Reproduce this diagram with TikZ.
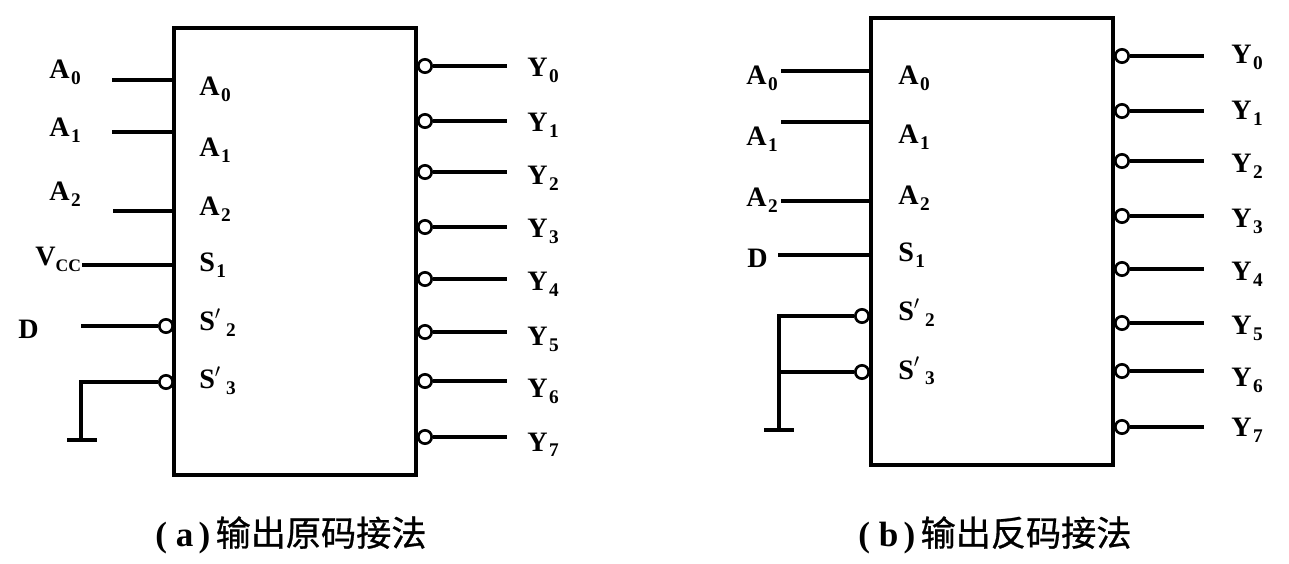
\documentclass[tikz,border=0pt]{standalone}
\usepackage{fontspec}
\setmainfont{Liberation Serif}
\newfontfamily\cjkfont[FakeBold=0.8]{Noto Sans CJK SC}
\usetikzlibrary{calc}
\newcommand{\sublab}[2]{#1\kern0.8pt\raisebox{-3.4pt}{\fontsize{11}{11}\selectfont #2}}
\tikzset{
	wire/.style={line width=1.8pt},
	chipbox/.style={draw, line width=1.8pt, minimum width=4.84cm, minimum height=8.94cm, inner sep=0pt},
	bubble/.style={circle, draw, line width=1.5pt, fill=white, minimum size=7.6pt, inner sep=0pt},
	pinlab/.style={anchor=base west, inner sep=0pt, font=\fontsize{16}{18}\selectfont\bfseries},
	caplab/.style={anchor=base west, inner sep=0pt, font=\fontsize{20}{20}\selectfont\bfseries}
}
\begin{document}
\begin{tikzpicture}[x=0.02cm, y=-0.02cm]
	\useasboundingbox (0,0) rectangle (1289,564);
	
	% left circuit
	\node[chipbox] (boxa) at (295,251.5) {};
	\coordinate (ina0) at (112,80);
	\coordinate (ina1) at (112,132);
	\coordinate (ina2) at (113,211);
	\coordinate (invcc) at (82,265);
	\coordinate (ind) at (81,326);
	\coordinate (ingnd) at (81,382);
	\coordinate (gnda) at (81,440);
	\coordinate (gndal) at (67,440);
	\coordinate (gndar) at (97,440);
	\node[bubble] (nsa2) at (166,326) {};
	\node[bubble] (nsa3) at (166,382) {};
	\draw[wire] (ina0) -- (ina0 -| boxa.west);
	\draw[wire] (ina1) -- (ina1 -| boxa.west);
	\draw[wire] (ina2) -- (ina2 -| boxa.west);
	\draw[wire] (invcc) -- (invcc -| boxa.west);
	\draw[wire] (ind) -- (nsa2);
	\draw[wire] (nsa3) -- (ingnd) -- (gnda);
	\draw[wire] (gndal) -- (gndar);
	
	\node[pinlab] (la0) at (49,79) {\sublab{A}{0}};
	\node[pinlab] (la1) at (49,137) {\sublab{A}{1}};
	\node[pinlab] (la2) at (49,201) {\sublab{A}{2}};
	\node[pinlab] (lvcc) at (35,266) {V\raisebox{-3.4pt}{\fontsize{10}{10}\selectfont CC}};
	\node[pinlab] (ld) at (18,338) {D};
	
	\node[pinlab] (ta0) at (199,96) {\sublab{A}{0}};
	\node[pinlab] (ta1) at (199,157) {\sublab{A}{1}};
	\node[pinlab] (ta2) at (199,216) {\sublab{A}{2}};
	\node[pinlab] (ts1) at (199,272) {\sublab{S}{1}};
	\node[pinlab] (ts2) at (199,331) {\sublab{S$'$\kern2pt}{2}};
	\node[pinlab] (ts3) at (199,389) {\sublab{S$'$\kern2pt}{3}};
	
	\foreach \i/\yy/\ty in {0/66/77,1/121/132,2/172/185,3/227/238,4/279/291,5/332/346,6/381/398,7/437/451}{
		\node[bubble] (oa\i) at (425,\yy) {};
		\coordinate (ea\i) at (507,\yy);
		\draw[wire] (oa\i) -- (ea\i);
		\node[pinlab] (ya\i) at (527,\ty) {\sublab{Y}{\i}};
	}
	\node[caplab] (capa) at (155,546) {(\kern5pt a\kern3pt)\kern3pt{\mdseries\cjkfont 输出原码接法}};
	
	% right circuit
	\node[chipbox] (boxb) at (992,241.5) {};
	\coordinate (inb0) at (781,71);
	\coordinate (inb1) at (781,122);
	\coordinate (inb2) at (781,201);
	\coordinate (indb) at (778,255);
	\coordinate (intop) at (779,316);
	\coordinate (inmid) at (779,372);
	\coordinate (gndb) at (779,430);
	\coordinate (gndbl) at (764,430);
	\coordinate (gndbr) at (794,430);
	\node[bubble] (nsb2) at (862,316) {};
	\node[bubble] (nsb3) at (862,372) {};
	\draw[wire] (inb0) -- (inb0 -| boxb.west);
	\draw[wire] (inb1) -- (inb1 -| boxb.west);
	\draw[wire] (inb2) -- (inb2 -| boxb.west);
	\draw[wire] (indb) -- (indb -| boxb.west);
	\draw[wire] (nsb2) -- (intop) -- (gndb);
	\draw[wire] (nsb3) -- (inmid);
	\draw[wire] (gndbl) -- (gndbr);
	
	\node[pinlab] (lb0) at (746,85) {\sublab{A}{0}};
	\node[pinlab] (lb1) at (746,146) {\sublab{A}{1}};
	\node[pinlab] (lb2) at (746,207) {\sublab{A}{2}};
	\node[pinlab] (lbd) at (747,268) {D};
	
	\node[pinlab] (tb0) at (898,85) {\sublab{A}{0}};
	\node[pinlab] (tb1) at (898,144) {\sublab{A}{1}};
	\node[pinlab] (tb2) at (898,205) {\sublab{A}{2}};
	\node[pinlab] (tbs1) at (898,262) {\sublab{S}{1}};
	\node[pinlab] (tbs2) at (898,321) {\sublab{S$'$\kern2pt}{2}};
	\node[pinlab] (tbs3) at (898,379) {\sublab{S$'$\kern2pt}{3}};
	
	\foreach \i/\yy/\ty in {0/56/64,1/111/120,2/161/173,3/216/228,4/269/281,5/323/335,6/371/387,7/427/437}{
		\node[bubble] (ob\i) at (1122,\yy) {};
		\coordinate (eb\i) at (1204,\yy);
		\draw[wire] (ob\i) -- (eb\i);
		\node[pinlab] (yb\i) at (1231,\ty) {\sublab{Y}{\i}};
	}
	\node[caplab] (capb) at (858,546) {(\kern5pt b\kern3pt)\kern3pt{\mdseries\cjkfont 输出反码接法}};
\end{tikzpicture}
\end{document}
